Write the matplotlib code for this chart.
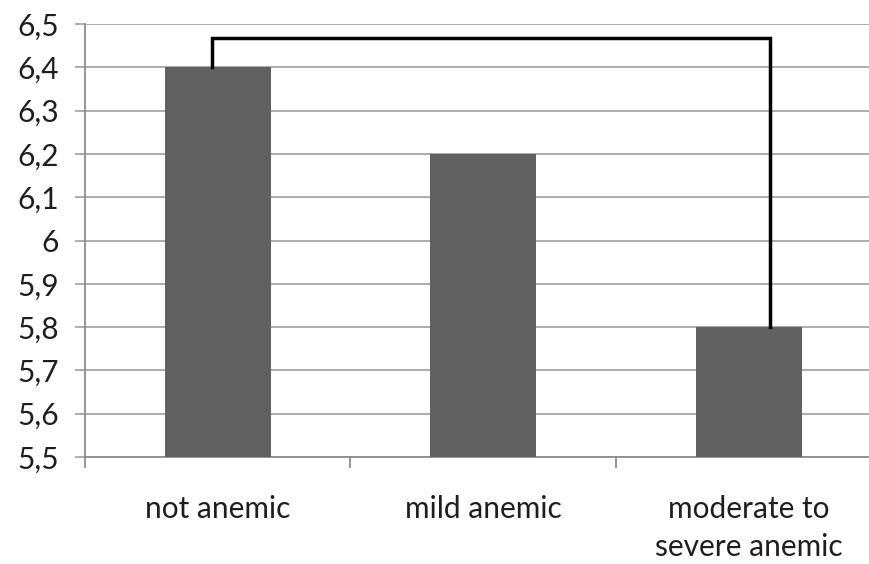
import matplotlib
matplotlib.use("Agg")
import matplotlib.pyplot as plt
from matplotlib.ticker import FixedLocator, FuncFormatter
import numpy as np

categories = ["not anemic", "mild anemic", "moderate to\nsevere anemic"]
values = [6.4, 6.2, 5.8]
y_ticks = [5.5, 5.6, 5.7, 5.8, 5.9, 6.0, 6.1, 6.2, 6.3, 6.4, 6.5]
bracket_level = 6.467

plt.rcParams['font.family'] = ['Lato', 'DejaVu Sans']

fig = plt.figure(figsize=(8.7, 5.64), dpi=100)
ax = fig.add_axes([85 / 870, 107 / 564, 796.5 / 870, 433 / 564])

x = np.arange(len(categories))
ax.bar(x, values, width=0.4, color='#606060', bottom=0, zorder=3)

ax.set_xlim(-0.5, 2.5)
ax.set_ylim(5.5, 6.5)
ax.yaxis.set_major_locator(FixedLocator(y_ticks))
ax.yaxis.set_major_formatter(FuncFormatter(lambda v, p: f"{v:g}".replace('.', ',')))
ax.grid(axis='y', color='#a6a6a6', linewidth=1.3, zorder=0)

ax.set_xticks([-0.5, 0.5, 1.5, 2.5])
ax.set_xticklabels([])
ax.set_xticks(x, minor=True)
ax.set_xticklabels(categories, minor=True, fontsize=21.5, color='#1e1e1e', linespacing=1.45)
ax.tick_params(axis='x', which='major', length=8, width=1.3, color='#8c8c8c', direction='out')
ax.tick_params(axis='x', which='minor', length=0, pad=27)
ax.tick_params(axis='y', length=7, width=1.3, color='#a6a6a6', labelsize=21.5,
               labelcolor='#1e1e1e', pad=12)

for side in ['top', 'right']:
    ax.spines[side].set_visible(False)
for side in ['left', 'bottom']:
    ax.spines[side].set_color('#8c8c8c')
    ax.spines[side].set_linewidth(1.3)

# significance bracket between first and third group
x_left = x[0] - 0.02
x_right = x[2] + 0.08
ax.plot([x_left, x_left, x_right, x_right],
        [values[0], bracket_level, bracket_level, values[2]],
        color='black', linewidth=2.5, zorder=4, solid_joinstyle='miter')

fig.savefig("out.png", dpi=100)
